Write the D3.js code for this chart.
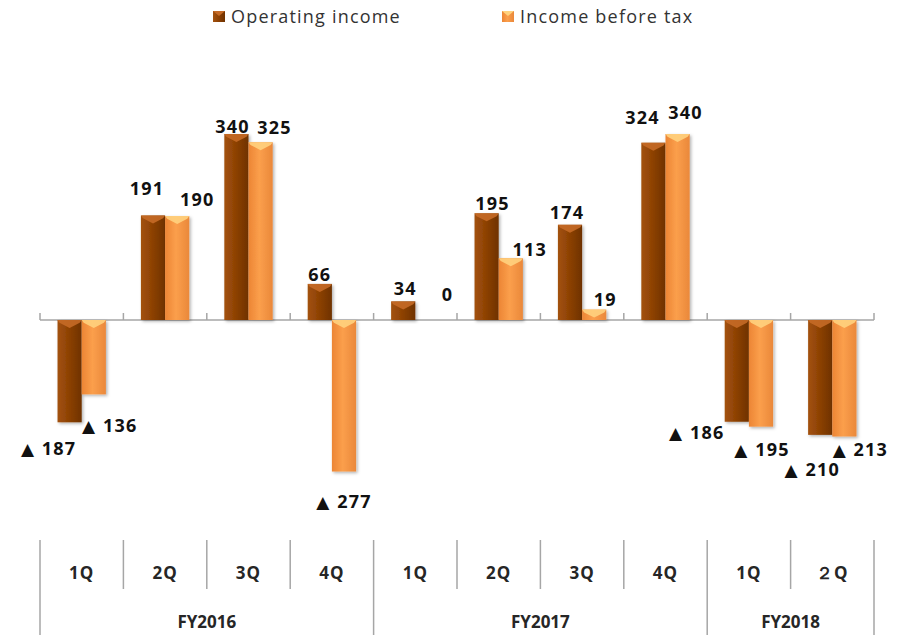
<!DOCTYPE html>
<html>
<head>
<meta charset="utf-8">
<script src="https://cdn.jsdelivr.net/npm/d3@7"></script>
<style>
  body { margin: 0; background: #fff; }
  svg { font-family: "Open Sans", "Noto Sans", sans-serif; }
</style>
</head>
<body>
<div class="chart"></div>
<script>
// quarters and fiscal years
const quarters = ["1Q", "2Q", "3Q", "4Q", "1Q", "2Q", "3Q", "4Q", "1Q", "２Q"];
const years = [
    {name: "FY2016", from: 0, to: 4},
    {name: "FY2017", from: 4, to: 8},
    {name: "FY2018", from: 8, to: 10}
];
const seriesNames = ["Operating income", "Income before tax"];
const operatingIncome = [-187, 191, 340, 66, 34, 195, 174, 324, -186, -210];
const incomeBeforeTax = [-136, 190, 325, -277, 0, 113, 19, 340, -195, -213];

// label nudges [dx from bar centre, gap from bar end]
const opLabelNudge = [[-21, 26], [-6, 27], [-4, 7], [0, 9], [2, 13], [6, 10], [-3, 12], [-11, 25], [-40, 11], [-8, 35]];
const ibtLabelNudge = [[16, 31], [20, 16], [14, 15], [0, 30], [20, 25], [19, 8], [11, 10], [8, 21], [1, 23], [16, 13]];

const W = 905, H = 635;
const zeroY = 320;

const svg = d3.select("div.chart")
    .append("svg")
    .attr("width", W)
    .attr("height", H);

const defs = svg.append("defs");

function hGradient(id, stops) {
    let g = defs.append("linearGradient").attr("id", id)
        .attr("x1", "0%").attr("x2", "100%").attr("y1", "0%").attr("y2", "0%");
    stops.forEach(s => g.append("stop").attr("offset", s[0]).attr("stop-color", s[1]));
}
hGradient("gOp", [["0%", "#a3520f"], ["45%", "#8e4204"], ["100%", "#6f3200"]]);
hGradient("gIbt", [["0%", "#ec8534"], ["45%", "#fb9f4c"], ["100%", "#ea883a"]]);

let shadow = defs.append("filter").attr("id", "shadow")
    .attr("x", "-30%").attr("y", "-10%").attr("width", "160%").attr("height", "130%");
shadow.append("feDropShadow").attr("dx", 1.5).attr("dy", 1.5).attr("stdDeviation", 1.5)
    .attr("flood-color", "#000").attr("flood-opacity", 0.3);

const x = d3.scaleBand()
    .domain(d3.range(quarters.length))
    .range([40, 874]);
const xs = d3.scaleBand()
    .domain(seriesNames)
    .range([x.bandwidth() * 0.21, x.bandwidth() * 0.79]);
const y = d3.scaleLinear()
    .domain([-300, 350])
    .range([zeroY + 300 * 0.547, zeroY - 350 * 0.547]);

const series = [
    {name: seriesNames[0], values: operatingIncome, nudge: opLabelNudge, fill: "url(#gOp)", bevel: "#c56a26"},
    {name: seriesNames[1], values: incomeBeforeTax, nudge: ibtLabelNudge, fill: "url(#gIbt)", bevel: "#ffd27e"}
];

// zero axis with upward ticks
const axisG = svg.append("g").attr("stroke", "#a6a6a6").attr("stroke-width", 1.5);
axisG.append("line")
    .attr("x1", x.range()[0]).attr("x2", x.range()[1])
    .attr("y1", y(0)).attr("y2", y(0));
axisG.selectAll("line.tick")
    .data(d3.range(quarters.length + 1))
    .join("line")
    .attr("class", "tick")
    .attr("x1", i => x.range()[0] + i * x.bandwidth())
    .attr("x2", i => x.range()[0] + i * x.bandwidth())
    .attr("y1", y(0) - 7).attr("y2", y(0));

// bars
series.forEach(s => {
    let g = svg.append("g");
    s.values.forEach((v, i) => {
        let bx = x(i) + xs(s.name);
        let bw = xs.bandwidth();
        let top = Math.min(y(v), y(0));
        let h = Math.abs(y(v) - y(0));
        if (h < 0.5) return;
        g.append("rect")
            .attr("x", bx).attr("y", top)
            .attr("width", bw).attr("height", h)
            .attr("fill", s.fill)
            .attr("filter", "url(#shadow)");
        let bh = Math.min(8, h);
        g.append("path")
            .attr("d", `M${bx},${top}L${bx + bw},${top}L${bx + bw - 2},${top + bh * 0.35}L${bx + bw / 2},${top + bh}L${bx + 2},${top + bh * 0.35}Z`)
            .attr("fill", s.bevel)
            .attr("opacity", 0.9);
    });
});

// value labels (negatives shown with a triangle)
series.forEach(s => {
    let t = svg.append("g")
        .selectAll("text")
        .data(s.values)
        .join("text")
        .attr("x", (d, i) => x(i) + xs(s.name) + xs.bandwidth() / 2 + s.nudge[i][0])
        .attr("y", (d, i) => d >= 0 ? y(d) - s.nudge[i][1] : y(d) + s.nudge[i][1])
        .attr("dy", "0.35em")
        .attr("text-anchor", "middle")
        .attr("font-size", 18)
        .attr("font-weight", "bold")
        .attr("letter-spacing", 1.2)
        .attr("fill", "#111");
    t.filter(d => d < 0).append("tspan")
        .attr("font-family", "DejaVu Sans")
        .attr("font-size", 17)
        .attr("font-weight", "normal")
        .text("▲ ");
    t.append("tspan").text(d => Math.abs(d));
});

// category axis below the chart
const catG = svg.append("g");
const edge = i => x.range()[0] + i * x.bandwidth();
const yearEdges = new Set(years.flatMap(d => [d.from, d.to]));
catG.selectAll("line")
    .data(d3.range(quarters.length + 1))
    .join("line")
    .attr("x1", edge).attr("x2", edge)
    .attr("y1", 540)
    .attr("y2", i => yearEdges.has(i) ? 635 : 589)
    .attr("stroke", "#a6a6a6")
    .attr("stroke-width", 1.5);
catG.selectAll("text.q")
    .data(quarters)
    .join("text")
    .attr("class", "q")
    .attr("x", (d, i) => x(i) + x.bandwidth() / 2)
    .attr("y", 573)
    .attr("dy", "0.35em")
    .attr("text-anchor", "middle")
    .attr("font-size", 17)
    .attr("font-weight", "bold")
    .attr("letter-spacing", 1)
    .attr("fill", "#262626")
    .text(d => d);
catG.selectAll("text.y")
    .data(years)
    .join("text")
    .attr("class", "y")
    .attr("x", d => (edge(d.from) + edge(d.to)) / 2)
    .attr("y", 622)
    .attr("dy", "0.35em")
    .attr("text-anchor", "middle")
    .attr("font-size", 17)
    .attr("font-weight", "bold")
    .attr("fill", "#262626")
    .text(d => d.name);

// legend
const legendX = [213, 502];
const legend = svg.append("g")
    .selectAll("g")
    .data(series)
    .join("g")
    .attr("transform", (d, i) => `translate(${legendX[i]},11)`);
legend.append("rect")
    .attr("width", 12).attr("height", 11)
    .attr("fill", d => d.fill);
legend.append("path")
    .attr("d", "M0,0L12,0L6,5Z")
    .attr("fill", d => d.bevel);
legend.append("text")
    .attr("x", 18).attr("y", 6)
    .attr("dy", "0.35em")
    .attr("font-size", 18)
    .attr("letter-spacing", 1.2)
    .attr("fill", "#333")
    .text(d => d.name);
</script>
</body>
</html>
